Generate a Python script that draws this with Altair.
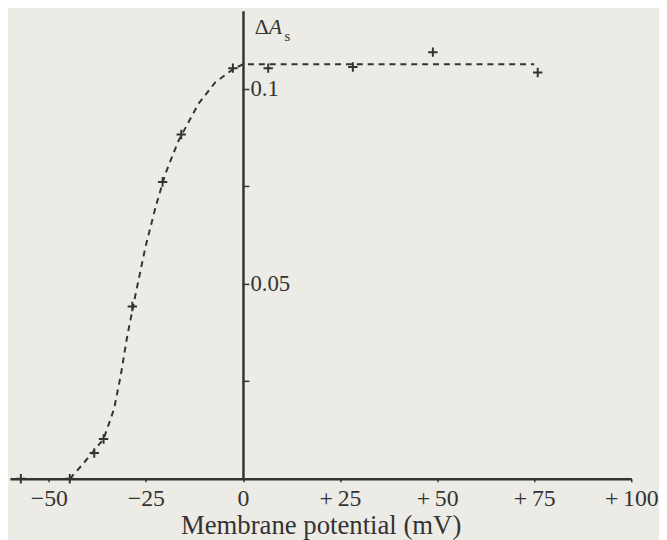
import altair as alt
import pandas as pd

# measured points (mV, ΔA_s)
pt_x = [-57.2, -44.6, -38.3, -35.9, -28.5, -20.7, -15.9, -2.6, 6.5, 28.3, 48.9, 75.9]
pt_y = [0.0, 0.0, 0.0066, 0.0102, 0.0442, 0.0761, 0.0883, 0.1053, 0.1053, 0.1056, 0.1094, 0.1042]

# dashed fitted curve
cv_x = [-44.6, -41.2, -35.9, -33.2, -31.5, -29.8, -27.6, -25.1, -22.5, -20.0, -16.6, -11.5, -7.2, -2.6, 0.0, 75.0]
cv_y = [0.0, 0.0038, 0.0102, 0.0179, 0.0264, 0.0366, 0.0476, 0.0595, 0.0697, 0.0782, 0.0867, 0.0961, 0.1016, 0.105, 0.1063, 0.1063]

x_ticks = [-50, -25, 0, 25, 50, 75, 100]
y_ticks = [0.025, 0.05, 0.075, 0.1]

W, H = 628, 473
XMIN, XMAX = -60, 100
YMAX = 0.12
INK = "#333333"
FONT = "Liberation Serif"

pts = pd.DataFrame({"x": pt_x, "y": pt_y})
cv = pd.DataFrame({"x": cv_x, "y": cv_y})

xscale = alt.Scale(domain=[XMIN, XMAX], nice=False, zero=False)
yscale = alt.Scale(domain=[0, YMAX], nice=False)

xaxis = alt.Axis(
    values=x_ticks,
    labelExpr="datum.value > 0 ? '+\u2009' + datum.value : (datum.value < 0 ? '\u2212' + abs(datum.value) : '0')",
    title="Membrane potential (mV)",
    titleFont=FONT, titleFontSize=27, titleFontWeight="normal", titleColor=INK,
    labelFont=FONT, labelFontSize=24, labelColor=INK, labelPadding=5,
    domainColor=INK, domainWidth=2.5, tickColor=INK, tickSize=3, tickWidth=1.5,
    grid=False, labelFlush=False, titlePadding=2,
)
yaxis = alt.Axis(
    orient="right",
    offset=-(XMAX / (XMAX - XMIN)) * W,
    values=y_ticks,
    labelExpr="(datum.value > 0.04 && datum.value < 0.06) || datum.value > 0.09 ? format(datum.value, '~g') : ''",
    labelFont=FONT, labelFontSize=23, labelColor=INK, labelPadding=1,
    domainColor=INK, domainWidth=2.5, tickColor=INK, tickSize=6, tickWidth=1.5,
    grid=False, title=None,
)

curve = alt.Chart(cv).mark_line(color=INK, strokeWidth=2, strokeDash=[6, 5]).encode(
    x=alt.X("x:Q", scale=xscale, axis=xaxis),
    y=alt.Y("y:Q", scale=yscale, axis=yaxis),
)

crosses = alt.Chart(pts).mark_point(
    shape="M-1,0H1M0,-1V1", size=90, color=INK, strokeWidth=2, filled=False, opacity=1
).encode(x=alt.X("x:Q", scale=xscale), y=alt.Y("y:Q", scale=yscale))

lab = pd.DataFrame({"x": [0], "y": [YMAX]})
delta = alt.Chart(lab).mark_text(text="Δ", font=FONT, fontSize=22, color=INK, align="left", baseline="top", dx=12, dy=6).encode(
    x=alt.X("x:Q", scale=xscale), y=alt.Y("y:Q", scale=yscale))
a_it = alt.Chart(lab).mark_text(text="A", font=FONT, fontSize=22, fontStyle="italic", color=INK, align="left", baseline="top", dx=26, dy=6).encode(
    x=alt.X("x:Q", scale=xscale), y=alt.Y("y:Q", scale=yscale))
sub = alt.Chart(lab).mark_text(text="s", font=FONT, fontSize=15, color=INK, align="left", baseline="top", dx=42, dy=18).encode(
    x=alt.X("x:Q", scale=xscale), y=alt.Y("y:Q", scale=yscale))

chart = alt.layer(curve, crosses, delta, a_it, sub).properties(
    width=W, height=H,
    padding={"left": 2, "top": 0, "right": 0, "bottom": 0},
    background="#ecebe6",
).configure_view(stroke=None)

chart.save("out.html", embed_options={"renderer": "svg", "actions": False})
